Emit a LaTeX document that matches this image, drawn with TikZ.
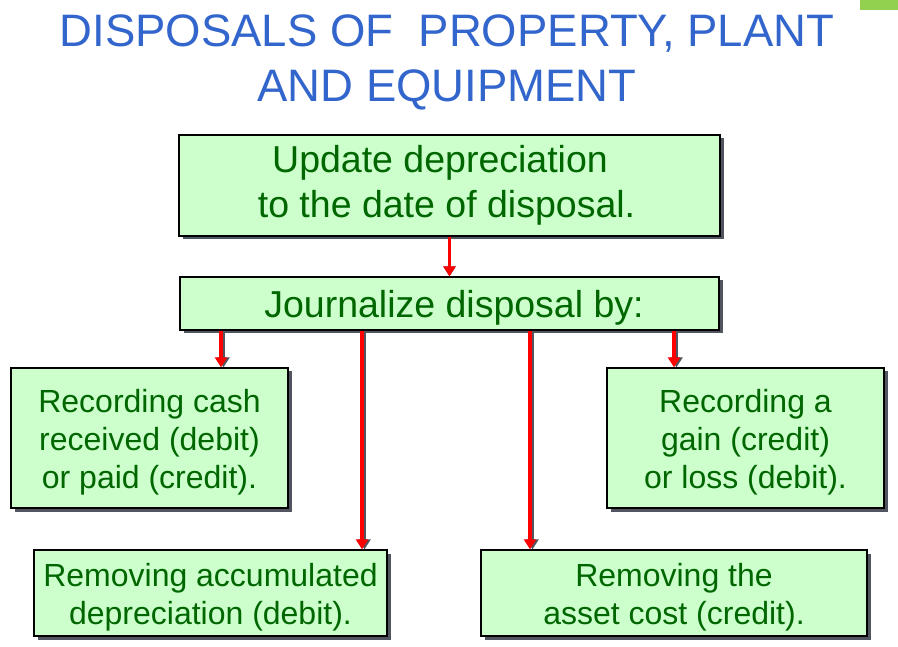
\documentclass[tikz,border=0pt]{standalone}
\usepackage{fontspec}
\setmainfont{Liberation Sans}
\usetikzlibrary{arrows.meta,shadows}
\definecolor{titleblue}{HTML}{3366CC}
\definecolor{boxfill}{HTML}{CCFFCC}
\definecolor{boxtext}{HTML}{006600}
\definecolor{shadowgray}{HTML}{505560}
\definecolor{barGreen}{HTML}{92D050}
\tikzset{
  box/.style={draw=black, line width=1.3pt, fill=boxfill, inner sep=0pt,
    drop shadow={shadow xshift=3.5pt, shadow yshift=-3.5pt, fill=shadowgray, opacity=1}},
  boxlabel/.style={text=boxtext, align=center, inner sep=0pt},
  bigtxt/.style={font=\fontsize{37.5}{45}\selectfont},
  smalltxt/.style={font=\fontsize{32}{38}\selectfont},
  arr/.style={draw=red, line width=3.2pt, -{Triangle[width=12pt,length=10pt]}},
  arrshadow/.style={draw=shadowgray, line width=3.2pt, -{Triangle[width=12pt,length=10pt]}},
  titletxt/.style={text=titleblue, font=\fontsize{45.5}{55}\selectfont, anchor=base, inner sep=0pt}
}
\begin{document}
\begin{tikzpicture}[x=1pt,y=-1pt]
\useasboundingbox (0,0) rectangle (898,647);
\fill[barGreen] (860,0) rectangle (898,10);
\node[titletxt] (t1) at (447,47) {DISPOSALS OF~~PROPERTY, PLANT};
\node[titletxt] (t2) at (447,102) {AND EQUIPMENT};

\node[box,minimum width=541pt,minimum height=101pt] (b1) at (449.5,185.5) {};
\node[box,minimum width=539pt,minimum height=53pt] (b2) at (449.5,303.5) {};
\node[box,minimum width=277pt,minimum height=140pt] (bL) at (149.5,438) {};
\node[box,minimum width=277pt,minimum height=140pt] (bR) at (745.5,438) {};
\node[box,minimum width=353pt,minimum height=86pt] (bBL) at (210.5,593) {};
\node[box,minimum width=386pt,minimum height=86pt] (bBR) at (674,593) {};

\node[boxlabel,bigtxt] (b1t) at ([xshift=-3pt]b1.center) {Update depreciation\hspace*{13pt}\\to the date of disposal.};
\node[boxlabel,bigtxt] (b2t) at ([xshift=4.5pt,yshift=-4pt]b2.center) {Journalize disposal by:};
\node[boxlabel,smalltxt] (bLt) at ([yshift=-4pt]bL.center) {Recording cash\\received (debit)\\or paid (credit).};
\node[boxlabel,smalltxt] (bRt) at ([yshift=-4pt]bR.center) {Recording a\\gain (credit)\\or loss (debit).};
\node[boxlabel,smalltxt] (bBLt) at ([yshift=-4.5pt]bBL.center) {Removing accumulated\\depreciation (debit).};
\node[boxlabel,smalltxt] (bBRt) at ([yshift=-4.5pt]bBR.center) {Removing the\\asset cost (credit).};

\begin{scope}[shift={(2.5,1.5)}]
\draw[arrshadow] (b1.south) -- (b2.north);
\draw[arrshadow] (b2.south -| 221,0) -- (bL.north -| 221,0);
\draw[arrshadow] (b2.south -| 362,0) -- (bBL.north -| 362,0);
\draw[arrshadow] (b2.south -| 530,0) -- (bBR.north -| 530,0);
\draw[arrshadow] (b2.south -| 674,0) -- (bR.north -| 674,0);
\end{scope}
\draw[arr] (b1.south) -- (b2.north);
\draw[arr] (b2.south -| 221,0) -- (bL.north -| 221,0);
\draw[arr] (b2.south -| 362,0) -- (bBL.north -| 362,0);
\draw[arr] (b2.south -| 530,0) -- (bBR.north -| 530,0);
\draw[arr] (b2.south -| 674,0) -- (bR.north -| 674,0);
\end{tikzpicture}
\end{document}
